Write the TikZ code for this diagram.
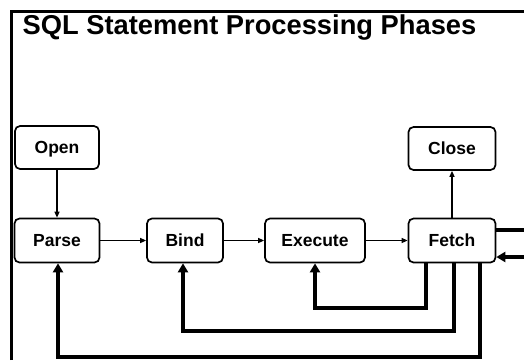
\documentclass[tikz,border=0pt]{standalone}
\usepackage{fontspec}
\setmainfont{Liberation Sans}
\usetikzlibrary{arrows.meta}
\begin{document}
\begin{tikzpicture}[x=1pt,y=-1pt,
  phase/.style={draw,line width=1.7pt,rounded corners=5pt,inner sep=0pt,
    text height=12.6pt,text depth=0pt,
    font=\fontsize{17.5}{20}\selectfont\bfseries},
  thinarrow/.style={line width=1.3pt,-{Triangle[length=6pt,width=5pt]}},
  thickline/.style={line width=3.6pt},
  thickarrow/.style={line width=3.6pt,-{Triangle[length=9pt,width=10pt]}},
  frame/.style={line width=3pt}]
\useasboundingbox (0,0) rectangle (524,360);
\draw[frame] (11.5,360) -- (11.5,11) -- (524,11);
\node[anchor=base west,inner sep=0pt,font=\fontsize{27.3}{30}\selectfont\bfseries] (title) at (22.5,34) {SQL Statement Processing Phases};
\node[phase,minimum width=84pt,minimum height=43pt] (open) at (57,147.5) {Open};
\node[phase,minimum width=85pt,minimum height=44pt] (parse) at (57,240.5) {Parse};
\node[phase,minimum width=76pt,minimum height=44pt] (bind) at (185,240.5) {Bind};
\node[phase,minimum width=100pt,minimum height=44pt] (execute) at (315,240.5) {Execute};
\node[phase,minimum width=87pt,minimum height=44pt] (fetch) at (452,240.5) {Fetch};
\node[phase,minimum width=87pt,minimum height=43pt] (close) at (452,148.5) {Close};
\coordinate (outA) at (524,230);
\coordinate (inB) at (524,257);
\draw[thinarrow] (open) -- (parse);
\draw[thinarrow] (parse) -- (bind);
\draw[thinarrow] (bind) -- (execute);
\draw[thinarrow] (execute) -- (fetch);
\draw[thinarrow] (fetch) -- (close);
\draw[thickarrow] (fetch.south -| 426,0) |- (315,308) -- (execute.south);
\draw[thickarrow] (fetch.south -| 454,0) |- (183,331) -- (bind.south -| 183,0);
\draw[thickarrow] (fetch.south -| 480,0) |- (58,357) -- (parse.south -| 58,0);
\draw[thickline] (fetch.east |- outA) -- (outA);
\draw[thickarrow] (inB) -- (fetch.east |- inB);
\end{tikzpicture}
\end{document}
